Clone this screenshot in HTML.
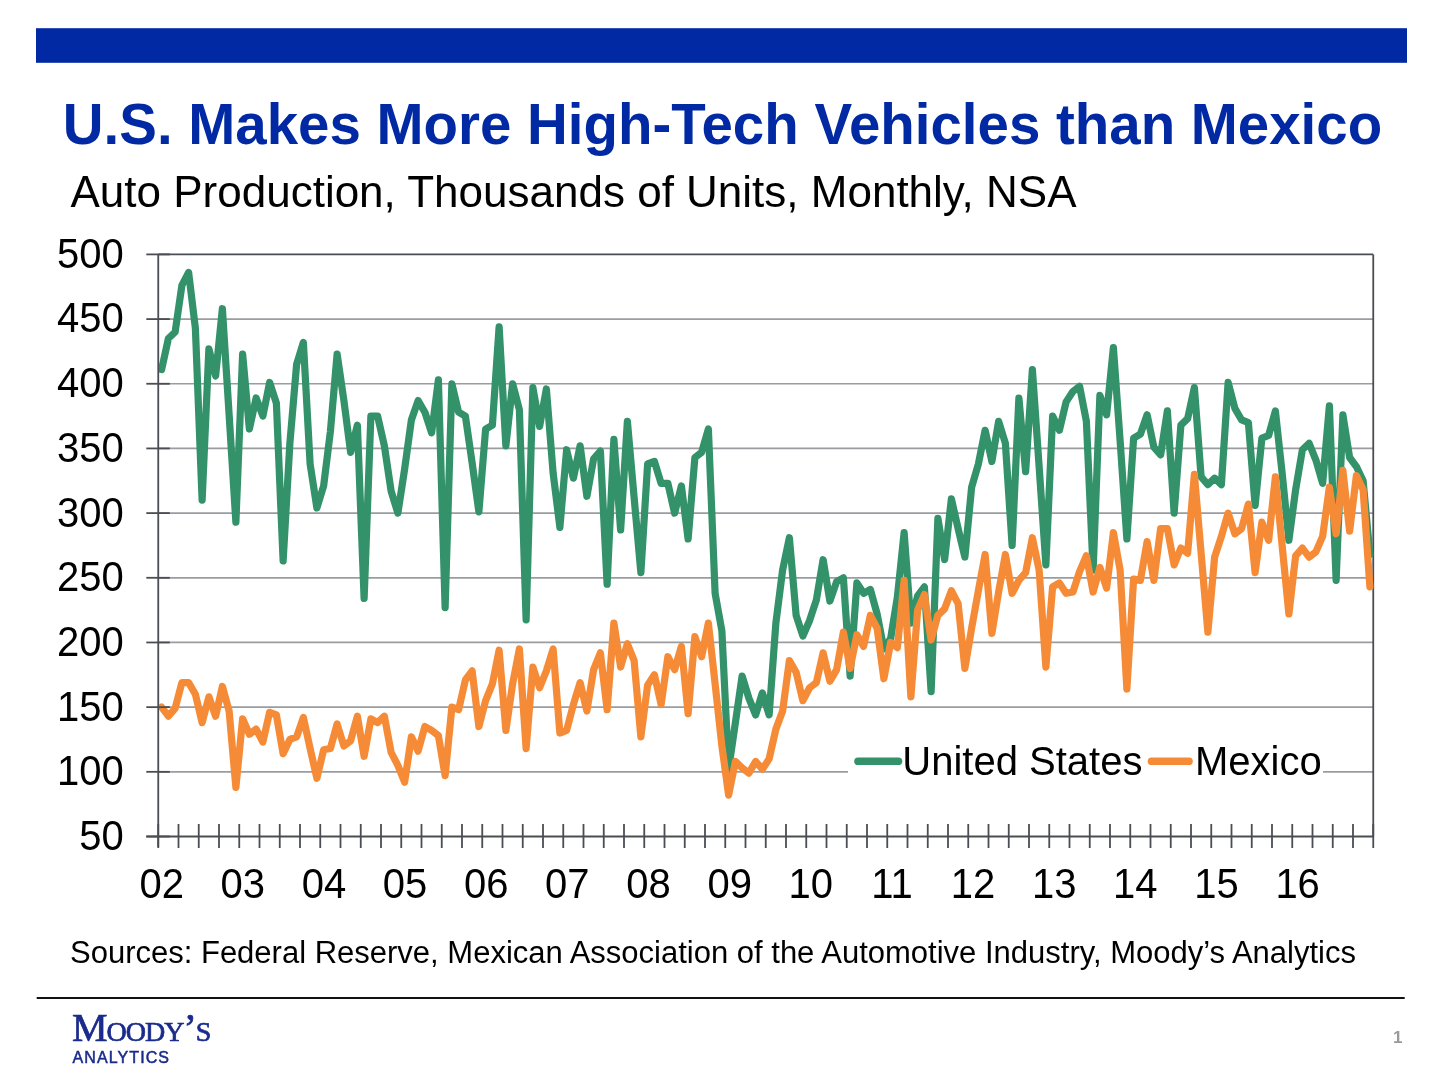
<!DOCTYPE html>
<html><head><meta charset="utf-8"><style>
html,body{margin:0;padding:0;background:#fff;width:1440px;height:1080px;overflow:hidden}
svg{display:block;will-change:transform}
text{font-family:"Liberation Sans",sans-serif}
.g{stroke:#9a9ca0;stroke-width:1.7}
.t{stroke:#4a4d52;stroke-width:1.8}
.ax{font-size:40px;fill:#000}
.us{fill:none;stroke:#33926a;stroke-width:7.2;stroke-linejoin:round;stroke-linecap:round}
.mx{fill:none;stroke:#f68b37;stroke-width:7.2;stroke-linejoin:round;stroke-linecap:round}
</style></head><body>
<svg width="1440" height="1080" viewBox="0 0 1440 1080">
<rect x="36" y="28.2" width="1371" height="34.6" fill="#0029a3"/>
<text x="62.8" y="144.3" font-size="56.45" font-weight="700" fill="#0029a3">U.S. Makes More High-Tech Vehicles than Mexico</text>
<text x="70.5" y="206.8" font-size="44" fill="#000">Auto Production, Thousands of Units, Monthly, NSA</text>
<line x1="158.25" y1="319.08" x2="1373.25" y2="319.08" class="g"/><line x1="158.25" y1="383.76" x2="1373.25" y2="383.76" class="g"/><line x1="158.25" y1="448.43" x2="1373.25" y2="448.43" class="g"/><line x1="158.25" y1="513.11" x2="1373.25" y2="513.11" class="g"/><line x1="158.25" y1="577.79" x2="1373.25" y2="577.79" class="g"/><line x1="158.25" y1="642.47" x2="1373.25" y2="642.47" class="g"/><line x1="158.25" y1="707.14" x2="1373.25" y2="707.14" class="g"/><line x1="158.25" y1="771.82" x2="1373.25" y2="771.82" class="g"/>
<line x1="158.25" y1="254.4" x2="1373.25" y2="254.4" class="t"/>
<line x1="1373.25" y1="254.4" x2="1373.25" y2="836.5" class="t"/>
<path class="us" d="M161.62,369.53 L168.38,338.48 L175.12,332.01 L181.88,285.45 L188.62,272.51 L195.38,328.13 L202.12,500.18 L208.88,348.83 L215.62,375.99 L222.38,308.73 L229.12,414.80 L235.88,522.17 L242.62,354.00 L249.38,429.03 L256.12,397.98 L262.88,416.09 L269.62,382.46 L276.38,403.16 L283.12,560.97 L289.88,443.26 L296.62,364.35 L303.38,342.36 L310.12,463.96 L316.88,507.94 L323.62,485.95 L330.38,431.62 L337.12,354.00 L343.88,400.57 L350.62,452.31 L357.38,425.15 L364.12,598.49 L370.88,416.09 L377.62,416.09 L384.38,445.85 L391.12,491.12 L397.88,513.11 L404.62,469.13 L411.38,419.98 L418.12,400.57 L424.88,412.21 L431.62,432.91 L438.38,379.87 L445.12,607.54 L451.88,383.76 L458.62,412.21 L465.38,416.09 L472.12,462.66 L478.88,511.82 L485.62,429.03 L492.38,425.15 L499.12,326.84 L505.88,445.85 L512.62,383.76 L519.38,409.63 L526.12,619.83 L532.88,387.64 L539.62,426.44 L546.38,388.93 L553.12,473.01 L559.88,527.34 L566.62,449.73 L573.38,478.19 L580.12,445.85 L586.88,496.29 L593.62,458.78 L600.38,451.02 L607.12,584.26 L613.88,439.38 L620.62,529.93 L627.38,421.27 L634.12,497.59 L640.88,572.61 L647.62,463.96 L654.38,461.37 L661.12,483.36 L667.88,483.36 L674.62,513.11 L681.38,485.95 L688.12,538.98 L694.88,457.49 L701.62,452.31 L708.38,429.03 L715.12,593.31 L721.88,630.82 L728.62,769.24 L735.38,722.67 L742.12,676.10 L748.88,698.09 L755.62,714.91 L762.38,692.92 L769.12,714.91 L775.88,623.06 L782.62,570.03 L789.38,537.69 L796.12,615.30 L802.88,636.00 L809.62,620.48 L816.38,599.78 L823.12,559.68 L829.88,601.07 L836.62,581.67 L843.38,577.79 L850.12,676.10 L856.88,582.96 L863.62,593.31 L870.38,589.43 L877.12,614.01 L883.88,648.93 L890.62,638.59 L897.38,597.19 L904.12,532.51 L910.88,623.06 L917.62,595.90 L924.38,586.84 L931.12,691.62 L937.88,518.29 L944.62,559.68 L951.38,498.88 L958.12,528.63 L964.88,557.09 L971.62,487.24 L978.38,463.96 L985.12,430.32 L991.88,461.37 L998.62,421.27 L1005.38,443.26 L1012.12,545.45 L1018.88,397.98 L1025.62,471.72 L1032.38,369.53 L1039.12,466.54 L1045.88,564.85 L1052.62,416.09 L1059.38,430.32 L1066.12,401.87 L1072.88,391.52 L1079.62,386.34 L1086.38,421.27 L1093.12,570.03 L1099.88,395.40 L1106.62,414.80 L1113.38,347.54 L1120.12,440.67 L1126.88,538.98 L1133.62,438.08 L1140.38,434.20 L1147.12,414.80 L1153.88,447.14 L1160.62,454.90 L1167.38,410.92 L1174.12,513.11 L1180.88,425.15 L1187.62,418.68 L1194.38,387.64 L1201.12,476.89 L1207.88,484.65 L1214.62,478.19 L1221.38,484.65 L1228.12,382.46 L1234.88,408.33 L1241.62,419.98 L1248.38,422.56 L1255.12,505.35 L1261.88,438.08 L1268.62,435.50 L1275.38,410.92 L1282.12,473.01 L1288.88,540.28 L1295.62,489.83 L1302.38,449.73 L1309.12,443.26 L1315.88,460.08 L1322.62,483.36 L1329.38,405.75 L1336.12,580.38 L1342.88,414.80 L1349.62,457.49 L1356.38,466.54 L1363.12,480.77 L1369.88,554.50"/>
<path class="mx" d="M161.62,707.14 L168.38,716.20 L175.12,708.44 L181.88,682.57 L188.62,682.57 L195.38,694.21 L202.12,722.67 L208.88,696.80 L215.62,716.20 L222.38,686.45 L229.12,711.03 L235.88,787.34 L242.62,718.79 L249.38,734.31 L256.12,729.13 L262.88,742.07 L269.62,712.32 L276.38,714.91 L283.12,753.71 L289.88,739.48 L296.62,736.90 L303.38,717.49 L310.12,748.54 L316.88,778.29 L323.62,749.83 L330.38,748.54 L337.12,723.96 L343.88,745.95 L350.62,740.78 L357.38,716.20 L364.12,756.30 L370.88,718.79 L377.62,722.67 L384.38,716.20 L391.12,752.42 L397.88,765.35 L404.62,782.17 L411.38,736.90 L418.12,751.13 L424.88,726.55 L431.62,730.43 L438.38,735.60 L445.12,775.70 L451.88,707.14 L458.62,709.73 L465.38,679.98 L472.12,670.92 L478.88,726.55 L485.62,700.68 L492.38,683.86 L499.12,650.23 L505.88,730.43 L512.62,683.86 L519.38,648.93 L526.12,748.54 L532.88,667.04 L539.62,687.74 L546.38,670.92 L553.12,648.93 L559.88,733.02 L566.62,730.43 L573.38,704.56 L580.12,682.57 L586.88,711.03 L593.62,669.63 L600.38,652.82 L607.12,709.73 L613.88,623.06 L620.62,667.04 L627.38,643.76 L634.12,660.58 L640.88,736.90 L647.62,685.15 L654.38,674.81 L661.12,704.56 L667.88,656.70 L674.62,669.63 L681.38,646.35 L688.12,713.61 L694.88,636.65 L701.62,656.70 L708.38,623.06 L715.12,683.86 L721.88,745.95 L728.62,795.11 L735.38,761.47 L742.12,767.94 L748.88,773.12 L755.62,761.47 L762.38,769.24 L769.12,758.89 L775.88,729.13 L782.62,711.03 L789.38,660.58 L796.12,672.22 L802.88,700.68 L809.62,687.74 L816.38,682.57 L823.12,652.82 L829.88,681.27 L836.62,669.63 L843.38,632.12 L850.12,668.34 L856.88,634.71 L863.62,646.35 L870.38,615.30 L877.12,628.24 L883.88,678.69 L890.62,642.47 L897.38,647.64 L904.12,580.38 L910.88,696.80 L917.62,610.13 L924.38,594.61 L931.12,639.88 L937.88,615.30 L944.62,608.83 L951.38,590.72 L958.12,603.66 L964.88,668.34 L971.62,628.24 L978.38,590.72 L985.12,554.50 L991.88,633.41 L998.62,592.02 L1005.38,554.50 L1012.12,593.31 L1018.88,580.38 L1025.62,572.61 L1032.38,537.69 L1039.12,570.03 L1045.88,667.04 L1052.62,586.84 L1059.38,582.96 L1066.12,593.31 L1072.88,592.02 L1079.62,571.32 L1086.38,555.80 L1093.12,592.02 L1099.88,567.44 L1106.62,588.14 L1113.38,532.51 L1120.12,570.03 L1126.88,689.03 L1133.62,579.08 L1140.38,580.38 L1147.12,541.57 L1153.88,580.38 L1160.62,528.63 L1167.38,528.63 L1174.12,564.85 L1180.88,548.04 L1187.62,553.21 L1194.38,474.30 L1201.12,553.21 L1207.88,632.12 L1214.62,557.09 L1221.38,536.40 L1228.12,513.11 L1234.88,533.81 L1241.62,528.63 L1248.38,504.06 L1255.12,572.61 L1261.88,522.17 L1268.62,540.28 L1275.38,476.89 L1282.12,545.45 L1288.88,614.01 L1295.62,555.80 L1302.38,548.04 L1309.12,557.09 L1315.88,551.92 L1322.62,536.40 L1329.38,487.24 L1336.12,533.81 L1342.88,470.42 L1349.62,531.22 L1356.38,475.60 L1363.12,489.83 L1369.88,586.84"/>
<rect x="848" y="740" width="475" height="44" fill="#fff"/>
<line x1="158.25" y1="254.4" x2="158.25" y2="847" class="t"/>
<line x1="146.3" y1="836.5" x2="1373.25" y2="836.5" class="t"/>
<line x1="146.3" y1="254.40" x2="169.8" y2="254.40" class="t"/><line x1="146.3" y1="319.08" x2="169.8" y2="319.08" class="t"/><line x1="146.3" y1="383.76" x2="169.8" y2="383.76" class="t"/><line x1="146.3" y1="448.43" x2="169.8" y2="448.43" class="t"/><line x1="146.3" y1="513.11" x2="169.8" y2="513.11" class="t"/><line x1="146.3" y1="577.79" x2="169.8" y2="577.79" class="t"/><line x1="146.3" y1="642.47" x2="169.8" y2="642.47" class="t"/><line x1="146.3" y1="707.14" x2="169.8" y2="707.14" class="t"/><line x1="146.3" y1="771.82" x2="169.8" y2="771.82" class="t"/><line x1="146.3" y1="836.50" x2="169.8" y2="836.50" class="t"/><line x1="158.25" y1="824" x2="158.25" y2="848" class="t"/><line x1="178.50" y1="824" x2="178.50" y2="848" class="t"/><line x1="198.75" y1="824" x2="198.75" y2="848" class="t"/><line x1="219.00" y1="824" x2="219.00" y2="848" class="t"/><line x1="239.25" y1="824" x2="239.25" y2="848" class="t"/><line x1="259.50" y1="824" x2="259.50" y2="848" class="t"/><line x1="279.75" y1="824" x2="279.75" y2="848" class="t"/><line x1="300.00" y1="824" x2="300.00" y2="848" class="t"/><line x1="320.25" y1="824" x2="320.25" y2="848" class="t"/><line x1="340.50" y1="824" x2="340.50" y2="848" class="t"/><line x1="360.75" y1="824" x2="360.75" y2="848" class="t"/><line x1="381.00" y1="824" x2="381.00" y2="848" class="t"/><line x1="401.25" y1="824" x2="401.25" y2="848" class="t"/><line x1="421.50" y1="824" x2="421.50" y2="848" class="t"/><line x1="441.75" y1="824" x2="441.75" y2="848" class="t"/><line x1="462.00" y1="824" x2="462.00" y2="848" class="t"/><line x1="482.25" y1="824" x2="482.25" y2="848" class="t"/><line x1="502.50" y1="824" x2="502.50" y2="848" class="t"/><line x1="522.75" y1="824" x2="522.75" y2="848" class="t"/><line x1="543.00" y1="824" x2="543.00" y2="848" class="t"/><line x1="563.25" y1="824" x2="563.25" y2="848" class="t"/><line x1="583.50" y1="824" x2="583.50" y2="848" class="t"/><line x1="603.75" y1="824" x2="603.75" y2="848" class="t"/><line x1="624.00" y1="824" x2="624.00" y2="848" class="t"/><line x1="644.25" y1="824" x2="644.25" y2="848" class="t"/><line x1="664.50" y1="824" x2="664.50" y2="848" class="t"/><line x1="684.75" y1="824" x2="684.75" y2="848" class="t"/><line x1="705.00" y1="824" x2="705.00" y2="848" class="t"/><line x1="725.25" y1="824" x2="725.25" y2="848" class="t"/><line x1="745.50" y1="824" x2="745.50" y2="848" class="t"/><line x1="765.75" y1="824" x2="765.75" y2="848" class="t"/><line x1="786.00" y1="824" x2="786.00" y2="848" class="t"/><line x1="806.25" y1="824" x2="806.25" y2="848" class="t"/><line x1="826.50" y1="824" x2="826.50" y2="848" class="t"/><line x1="846.75" y1="824" x2="846.75" y2="848" class="t"/><line x1="867.00" y1="824" x2="867.00" y2="848" class="t"/><line x1="887.25" y1="824" x2="887.25" y2="848" class="t"/><line x1="907.50" y1="824" x2="907.50" y2="848" class="t"/><line x1="927.75" y1="824" x2="927.75" y2="848" class="t"/><line x1="948.00" y1="824" x2="948.00" y2="848" class="t"/><line x1="968.25" y1="824" x2="968.25" y2="848" class="t"/><line x1="988.50" y1="824" x2="988.50" y2="848" class="t"/><line x1="1008.75" y1="824" x2="1008.75" y2="848" class="t"/><line x1="1029.00" y1="824" x2="1029.00" y2="848" class="t"/><line x1="1049.25" y1="824" x2="1049.25" y2="848" class="t"/><line x1="1069.50" y1="824" x2="1069.50" y2="848" class="t"/><line x1="1089.75" y1="824" x2="1089.75" y2="848" class="t"/><line x1="1110.00" y1="824" x2="1110.00" y2="848" class="t"/><line x1="1130.25" y1="824" x2="1130.25" y2="848" class="t"/><line x1="1150.50" y1="824" x2="1150.50" y2="848" class="t"/><line x1="1170.75" y1="824" x2="1170.75" y2="848" class="t"/><line x1="1191.00" y1="824" x2="1191.00" y2="848" class="t"/><line x1="1211.25" y1="824" x2="1211.25" y2="848" class="t"/><line x1="1231.50" y1="824" x2="1231.50" y2="848" class="t"/><line x1="1251.75" y1="824" x2="1251.75" y2="848" class="t"/><line x1="1272.00" y1="824" x2="1272.00" y2="848" class="t"/><line x1="1292.25" y1="824" x2="1292.25" y2="848" class="t"/><line x1="1312.50" y1="824" x2="1312.50" y2="848" class="t"/><line x1="1332.75" y1="824" x2="1332.75" y2="848" class="t"/><line x1="1353.00" y1="824" x2="1353.00" y2="848" class="t"/><line x1="1373.25" y1="824" x2="1373.25" y2="848" class="t"/>
<text transform="translate(123.75,267.80) scale(1,1.05)" text-anchor="end" class="ax">500</text><text transform="translate(123.75,332.48) scale(1,1.05)" text-anchor="end" class="ax">450</text><text transform="translate(123.75,397.16) scale(1,1.05)" text-anchor="end" class="ax">400</text><text transform="translate(123.75,461.83) scale(1,1.05)" text-anchor="end" class="ax">350</text><text transform="translate(123.75,526.51) scale(1,1.05)" text-anchor="end" class="ax">300</text><text transform="translate(123.75,591.19) scale(1,1.05)" text-anchor="end" class="ax">250</text><text transform="translate(123.75,655.87) scale(1,1.05)" text-anchor="end" class="ax">200</text><text transform="translate(123.75,720.54) scale(1,1.05)" text-anchor="end" class="ax">150</text><text transform="translate(123.75,785.22) scale(1,1.05)" text-anchor="end" class="ax">100</text><text transform="translate(123.75,849.90) scale(1,1.05)" text-anchor="end" class="ax">50</text>
<text transform="translate(161.65,897.5) scale(1,1.05)" text-anchor="middle" class="ax">02</text><text transform="translate(242.79,897.5) scale(1,1.05)" text-anchor="middle" class="ax">03</text><text transform="translate(323.93,897.5) scale(1,1.05)" text-anchor="middle" class="ax">04</text><text transform="translate(405.07,897.5) scale(1,1.05)" text-anchor="middle" class="ax">05</text><text transform="translate(486.21,897.5) scale(1,1.05)" text-anchor="middle" class="ax">06</text><text transform="translate(567.35,897.5) scale(1,1.05)" text-anchor="middle" class="ax">07</text><text transform="translate(648.49,897.5) scale(1,1.05)" text-anchor="middle" class="ax">08</text><text transform="translate(729.63,897.5) scale(1,1.05)" text-anchor="middle" class="ax">09</text><text transform="translate(810.77,897.5) scale(1,1.05)" text-anchor="middle" class="ax">10</text><text transform="translate(891.91,897.5) scale(1,1.05)" text-anchor="middle" class="ax">11</text><text transform="translate(973.05,897.5) scale(1,1.05)" text-anchor="middle" class="ax">12</text><text transform="translate(1054.19,897.5) scale(1,1.05)" text-anchor="middle" class="ax">13</text><text transform="translate(1135.33,897.5) scale(1,1.05)" text-anchor="middle" class="ax">14</text><text transform="translate(1216.47,897.5) scale(1,1.05)" text-anchor="middle" class="ax">15</text><text transform="translate(1297.61,897.5) scale(1,1.05)" text-anchor="middle" class="ax">16</text>
<line x1="858" y1="761.3" x2="898.5" y2="761.3" stroke="#33926a" stroke-width="7.6" stroke-linecap="round"/>
<text x="902.3" y="775" font-size="40" fill="#000">United States</text>
<line x1="1151.5" y1="761.3" x2="1189" y2="761.3" stroke="#f68b37" stroke-width="7.6" stroke-linecap="round"/>
<text x="1195" y="775" font-size="40" fill="#000">Mexico</text>
<text x="70" y="963.3" font-size="31" fill="#000">Sources: Federal Reserve, Mexican Association of the Automotive Industry, Moody’s Analytics</text>
<line x1="36.7" y1="998.1" x2="1404.7" y2="998.1" stroke="#111" stroke-width="2"/>
<text x="72" y="1041.3" font-size="40" letter-spacing="-1" fill="#1a2b8a" stroke="#1a2b8a" stroke-width="0.7" style="font-family:'Liberation Serif',serif;font-variant:small-caps">Moody’s</text>
<text x="72.5" y="1063.3" font-size="16" letter-spacing="1.1" fill="#1a2b8a" stroke="#1a2b8a" stroke-width="0.5">ANALYTICS</text>
<text x="1402.5" y="1043.3" font-size="17" font-weight="700" fill="#999" text-anchor="end">1</text>
</svg>
</body></html>
